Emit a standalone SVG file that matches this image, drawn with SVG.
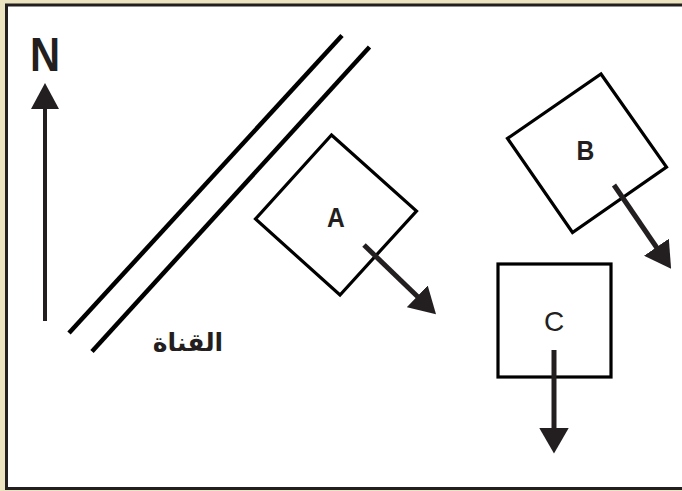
<svg xmlns="http://www.w3.org/2000/svg" width="682" height="491" viewBox="0 0 682 491">
<style>
.box{fill:#fff;stroke:#000;stroke-width:3.2;stroke-linejoin:miter}
.shaft{stroke:#231f20;stroke-width:5;fill:none}
.canal{stroke:#000;stroke-width:4.5;fill:none}
.lbl{font-family:"Liberation Sans",Arial,sans-serif;font-size:28px;fill:#231f20;text-anchor:middle}
</style>
<defs>
<marker id="ah" markerUnits="userSpaceOnUse" markerWidth="26" markerHeight="30" viewBox="0 0 26 30" refX="1" refY="15" orient="auto">
<path d="M0,0 L26,15 L0,30 z" fill="#231f20"/>
</marker>
</defs>
<rect x="0" y="0" width="682" height="491" fill="#ece3c0"/>
<rect x="6.5" y="5" width="680" height="483.5" fill="#fff" stroke="#231f20" stroke-width="3"/>
<g id="north">
<text x="0" y="0" transform="translate(45,71) scale(0.85,1)" font-family="'Liberation Sans',Arial,sans-serif" font-weight="bold" font-size="49" fill="#231f20" text-anchor="middle">N</text>
<line x1="45" y1="321" x2="45" y2="108" stroke="#231f20" stroke-width="4"/>
<path d="M45,83 L59,109 L31,109 z" fill="#231f20"/>
</g>
<g id="canal">
<line class="canal" x1="69" y1="333" x2="342" y2="35.5"/>
<line class="canal" x1="92" y1="351.5" x2="369.5" y2="47"/>
<text x="188" y="351" font-family="'DejaVu Sans',sans-serif" font-weight="bold" font-size="25" fill="#231f20" text-anchor="middle">القناة</text>
</g>
<g id="A">
<path class="box" d="M331.5,135 L416.5,211 L340,295 L255.5,219 z"/>
<text class="lbl" x="0" y="0" transform="translate(336,227) scale(0.88,1)" font-weight="bold">A</text>
</g>
<g id="B">
<path class="box" d="M601,74 L666.5,167 L572.5,232.5 L507.5,138.5 z"/>
<text class="lbl" x="0" y="0" transform="translate(585.5,160) scale(0.88,1)" font-weight="bold">B</text>
</g>
<g id="C">
<rect class="box" x="498" y="264" width="113" height="113"/>
<text class="lbl" x="554" y="331">C</text>
</g>
<g id="connectors">
<line class="shaft" x1="364" y1="245" x2="418" y2="297" marker-end="url(#ah)"/>
<line class="shaft" x1="614" y1="185" x2="657" y2="248" marker-end="url(#ah)"/>
<line class="shaft" x1="554" y1="350" x2="554" y2="428.5" marker-end="url(#ah)"/>
</g>
</svg>
